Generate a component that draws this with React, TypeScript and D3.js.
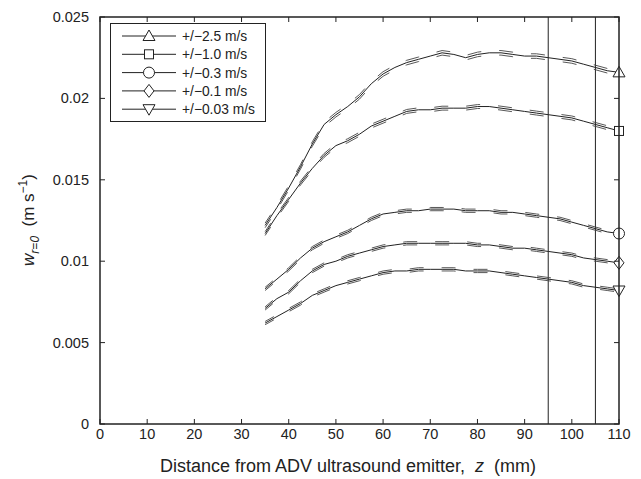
import React from "react";
import * as d3 from "d3";

const zValues = [35, 37.5, 40, 42.5, 45, 47.5, 50, 52.5, 55, 57.5, 60, 62.5, 65, 67.5, 70, 72.5, 75, 77.5, 80, 82.5, 85, 87.5, 90, 92.5, 95, 97.5, 100, 102.5, 105, 107.5, 110];

const w25 = [0.0122, 0.0133, 0.0145, 0.0158, 0.0172, 0.0184, 0.0190, 0.0195, 0.0201, 0.0209, 0.0215, 0.0219, 0.0222, 0.0224, 0.0226, 0.0228, 0.0227, 0.0225, 0.0227, 0.0228, 0.0228, 0.0227, 0.0226, 0.0226, 0.0225, 0.0224, 0.0223, 0.0221, 0.0219, 0.0217, 0.0216];
const w10 = [0.0117, 0.0128, 0.0138, 0.0148, 0.0157, 0.0165, 0.0171, 0.0174, 0.0178, 0.0183, 0.0186, 0.0189, 0.0192, 0.0193, 0.0193, 0.0194, 0.0194, 0.0194, 0.0195, 0.0195, 0.0194, 0.0193, 0.0192, 0.0191, 0.0190, 0.0189, 0.0188, 0.0186, 0.0184, 0.0182, 0.0180];
const w03 = [0.0083, 0.0089, 0.0095, 0.0102, 0.0108, 0.0112, 0.0115, 0.0118, 0.0122, 0.0126, 0.0129, 0.0130, 0.0131, 0.0131, 0.0132, 0.0132, 0.0132, 0.0131, 0.0131, 0.0131, 0.0130, 0.0130, 0.0129, 0.0128, 0.0127, 0.0126, 0.0124, 0.0122, 0.0120, 0.0118, 0.0117];
const w01 = [0.0071, 0.0077, 0.0081, 0.0088, 0.0094, 0.0098, 0.0100, 0.0103, 0.0105, 0.0107, 0.0109, 0.0110, 0.0111, 0.0111, 0.0111, 0.0111, 0.0111, 0.0111, 0.0110, 0.0110, 0.0109, 0.0108, 0.0108, 0.0107, 0.0106, 0.0105, 0.0104, 0.0102, 0.0101, 0.0100, 0.0099];
const w003 = [0.0062, 0.0066, 0.0070, 0.0074, 0.0079, 0.0082, 0.0085, 0.0087, 0.0089, 0.0091, 0.0093, 0.0094, 0.0094, 0.0095, 0.0095, 0.0095, 0.0095, 0.0094, 0.0094, 0.0094, 0.0093, 0.0092, 0.0091, 0.0090, 0.0089, 0.0088, 0.0087, 0.0085, 0.0084, 0.0083, 0.0082];

const seriesLabels = ["+/\u22122.5 m/s", "+/\u22121.0 m/s", "+/\u22120.3 m/s", "+/\u22120.1 m/s", "+/\u22120.03 m/s"];
const seriesValues = [w25, w10, w03, w01, w003];
const seriesSpread = [0.00014, 0.00012, 0.0001, 0.0001, 0.0001];
const markerKinds = ["triangle", "square", "circle", "diamond", "triangleDown"];

const xTicks = [0, 10, 20, 30, 40, 50, 60, 70, 80, 90, 100, 110];
const yTicks = [0, 0.005, 0.01, 0.015, 0.02, 0.025];
const yTickLabels = ["0", "0.005", "0.01", "0.015", "0.02", "0.025"];
const refLines = [95, 105];

const W = 641;
const H = 479;
const M = { left: 100, right: 619, top: 17, bottom: 424 };
const FONT = "'Liberation Sans', Arial, Helvetica, sans-serif";
const INK = "#222";

function Marker({ kind, cx, cy }: { kind: string; cx: number; cy: number }) {
  const s = 6;
  const common = { fill: "white", stroke: INK, strokeWidth: 1 };
  if (kind === "triangle")
    return <polygon points={`${cx},${cy - s} ${cx - s},${cy + s * 0.75} ${cx + s},${cy + s * 0.75}`} {...common} />;
  if (kind === "triangleDown")
    return <polygon points={`${cx},${cy + s} ${cx - s},${cy - s * 0.75} ${cx + s},${cy - s * 0.75}`} {...common} />;
  if (kind === "square") return <rect x={cx - 4.5} y={cy - 4.5} width={9} height={9} {...common} />;
  if (kind === "circle") return <circle cx={cx} cy={cy} r={5.5} {...common} />;
  return <polygon points={`${cx},${cy - 6.5} ${cx + 5},${cy} ${cx},${cy + 6.5} ${cx - 5},${cy}`} {...common} />;
}

export default function App() {
  const x = d3.scaleLinear().domain([0, 110]).range([M.left, M.right]);
  const y = d3.scaleLinear().domain([0, 0.025]).range([M.bottom, M.top]);
  const line = (vals: number[], off: number) =>
    d3
      .line<number>()
      .x((_, i) => x(zValues[i]))
      .y((v) => y(v + off))
      .curve(d3.curveLinear)(vals) || "";

  const legendRows = seriesLabels.map((l, i) => ({ l, i, yy: 36 + i * 18.3 }));

  return (
    <svg width={W} height={H} style={{ position: "absolute", left: 0, top: 0, background: "white" }} fontFamily={FONT}>
      <rect x={0} y={0} width={W} height={H} fill="white" />
      {refLines.map((r) => (
        <line key={r} x1={x(r)} x2={x(r)} y1={M.top} y2={M.bottom} stroke={INK} strokeWidth={1} />
      ))}
      {seriesValues.map((vals, i) => (
        <g key={i} fill="none">
          <path d={line(vals, seriesSpread[i])} stroke="#444" strokeWidth={0.9} strokeDasharray="14 18" strokeDashoffset={4} />
          <path d={line(vals, -seriesSpread[i])} stroke="#444" strokeWidth={0.9} strokeDasharray="14 18" strokeDashoffset={4} />
          <path d={line(vals, 0)} stroke={INK} strokeWidth={1} />
          <Marker kind={markerKinds[i]} cx={x(zValues[zValues.length - 1])} cy={y(vals[vals.length - 1])} />
        </g>
      ))}
      <rect x={M.left} y={M.top} width={M.right - M.left} height={M.bottom - M.top} fill="none" stroke={INK} strokeWidth={1.5} />
      {xTicks.map((t) => (
        <g key={"x" + t}>
          <line x1={x(t)} x2={x(t)} y1={M.bottom} y2={M.bottom - 5} stroke={INK} />
          <line x1={x(t)} x2={x(t)} y1={M.top} y2={M.top + 5} stroke={INK} />
          <text x={x(t)} y={439} textAnchor="middle" fontSize={14.5} fill={INK}>
            {t}
          </text>
        </g>
      ))}
      {yTicks.map((t, i) => (
        <g key={"y" + t}>
          <line x1={M.left} x2={M.left + 5} y1={y(t)} y2={y(t)} stroke={INK} />
          <line x1={M.right} x2={M.right - 5} y1={y(t)} y2={y(t)} stroke={INK} />
          <text x={89} y={y(t) + 5} textAnchor="end" fontSize={14.5} fill={INK}>
            {yTickLabels[i]}
          </text>
        </g>
      ))}
      <text x={348} y={472} textAnchor="middle" fontSize={18} fill={INK} xmlSpace="preserve">
        {"Distance from ADV ultrasound emitter,  "}
        <tspan fontStyle="italic">z</tspan>
        {"  (mm)"}
      </text>
      <text transform="translate(34,220) rotate(-90)" textAnchor="middle" fontSize={17} fill={INK} xmlSpace="preserve">
        <tspan fontStyle="italic">w</tspan>
        <tspan fontStyle="italic" fontSize={12} dy={5}>r=0</tspan>
        <tspan dy={-5}>{"  (m s"}</tspan>
        <tspan fontSize={12} dy={-7}>{"\u22121"}</tspan>
        <tspan dy={7}>)</tspan>
      </text>
      <rect x={110.5} y={23.5} width={155} height={98} fill="white" stroke={INK} strokeWidth={1} />
      {legendRows.map(({ l, i, yy }) => (
        <g key={l}>
          <line x1={122} x2={176} y1={yy} y2={yy} stroke={INK} strokeWidth={1} />
          <Marker kind={markerKinds[i]} cx={149} cy={yy} />
          <text x={182} y={yy + 5} fontSize={13.8} fill={INK}>
            {l}
          </text>
        </g>
      ))}
    </svg>
  );
}
